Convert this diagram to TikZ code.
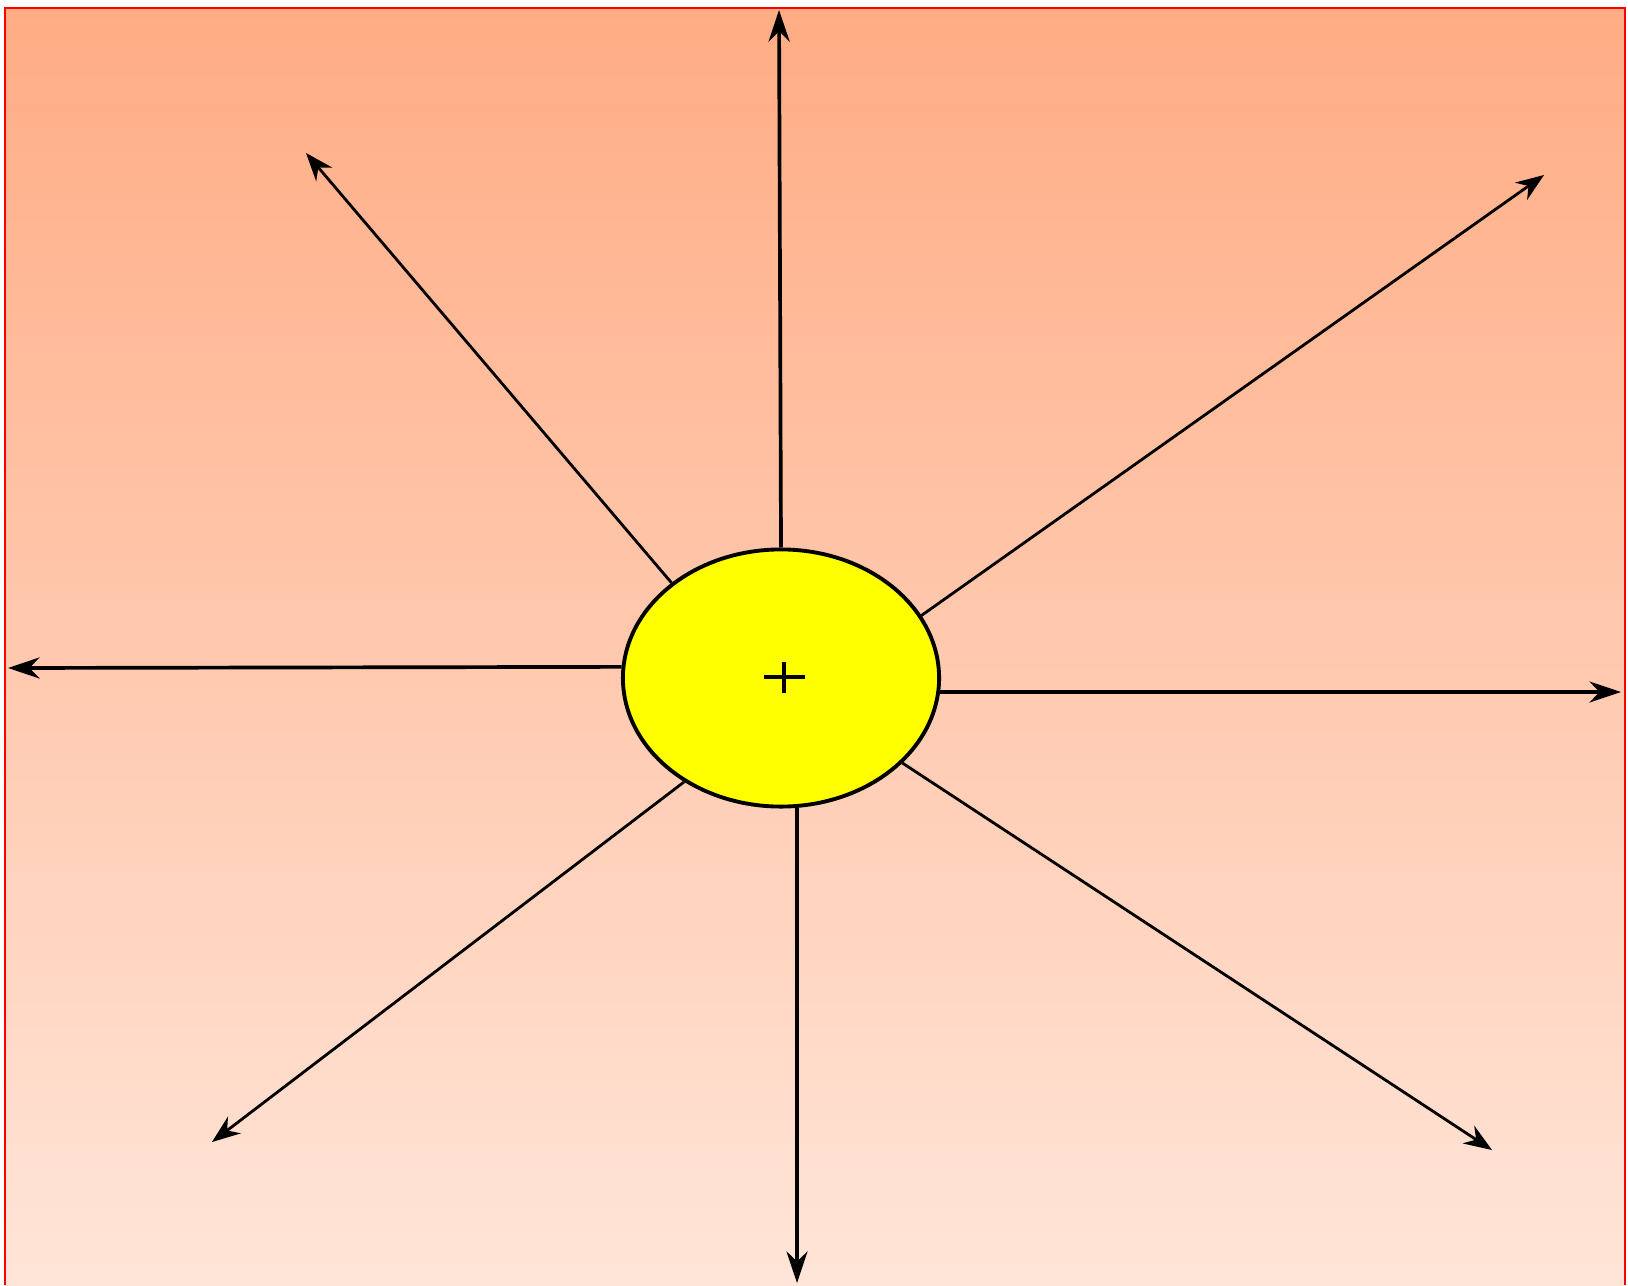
\documentclass[tikz,border=0pt]{standalone}
\usetikzlibrary{shapes.geometric,arrows.meta}
\definecolor{topsalmon}{RGB}{255,172,132}
\definecolor{botsalmon}{RGB}{255,229,216}
\definecolor{framered}{RGB}{255,0,0}
\definecolor{sunyellow}{RGB}{255,255,0}
\tikzset{
  ray/.style={black, line width=0.8pt, -{Stealth[length=8pt,width=6pt]}},
  axisray/.style={black, line width=1.05pt, -{Stealth[length=9pt,width=6pt]}},
  sunbody/.style={ellipse, draw=black, line width=1.1pt, fill=sunyellow,
    minimum width=3.16cm, minimum height=2.57cm, inner sep=0pt},
}
\begin{document}
\begin{tikzpicture}[x=0.01cm,y=-0.01cm]
\useasboundingbox (0,0) rectangle (1628,1285);
\fill[white] (0,0) rectangle (1628,1285);
\shade[top color=topsalmon, bottom color=botsalmon] (5,8) rectangle (1625,1285);
\draw[framered, line width=0.6pt] (5,1285) -- (5,8) -- (1625,8) -- (1625,1285);

\node[sunbody] (sun) at (781,678) {};
\draw[black, line width=1.1pt] (764,677) -- (805,677) (784,662) -- (784,693);

\coordinate (eUp) at (779,10);
\coordinate (eDown) at (797,1283);
\coordinate (eLeft) at (8,668);
\coordinate (eRight) at (1621,692);
\coordinate (eUL) at (306,153);
\coordinate (eUR) at (1544,175);
\coordinate (eLL) at (212,1142);
\coordinate (eLR) at (1492,1150);

\draw[axisray] (sun.north) -- (eUp);
\draw[axisray] (sun.-83) -- (eDown);
\draw[axisray] (sun.176) -- (eLeft);
\draw[axisray] (sun.-5) -- (eRight);
\draw[ray] (sun.139) -- (eUL);
\draw[ray] (sun.24) -- (eUR);
\draw[ray] (sun.-133) -- (eLL);
\draw[ray] (sun.-35) -- (eLR);
\end{tikzpicture}
\end{document}
